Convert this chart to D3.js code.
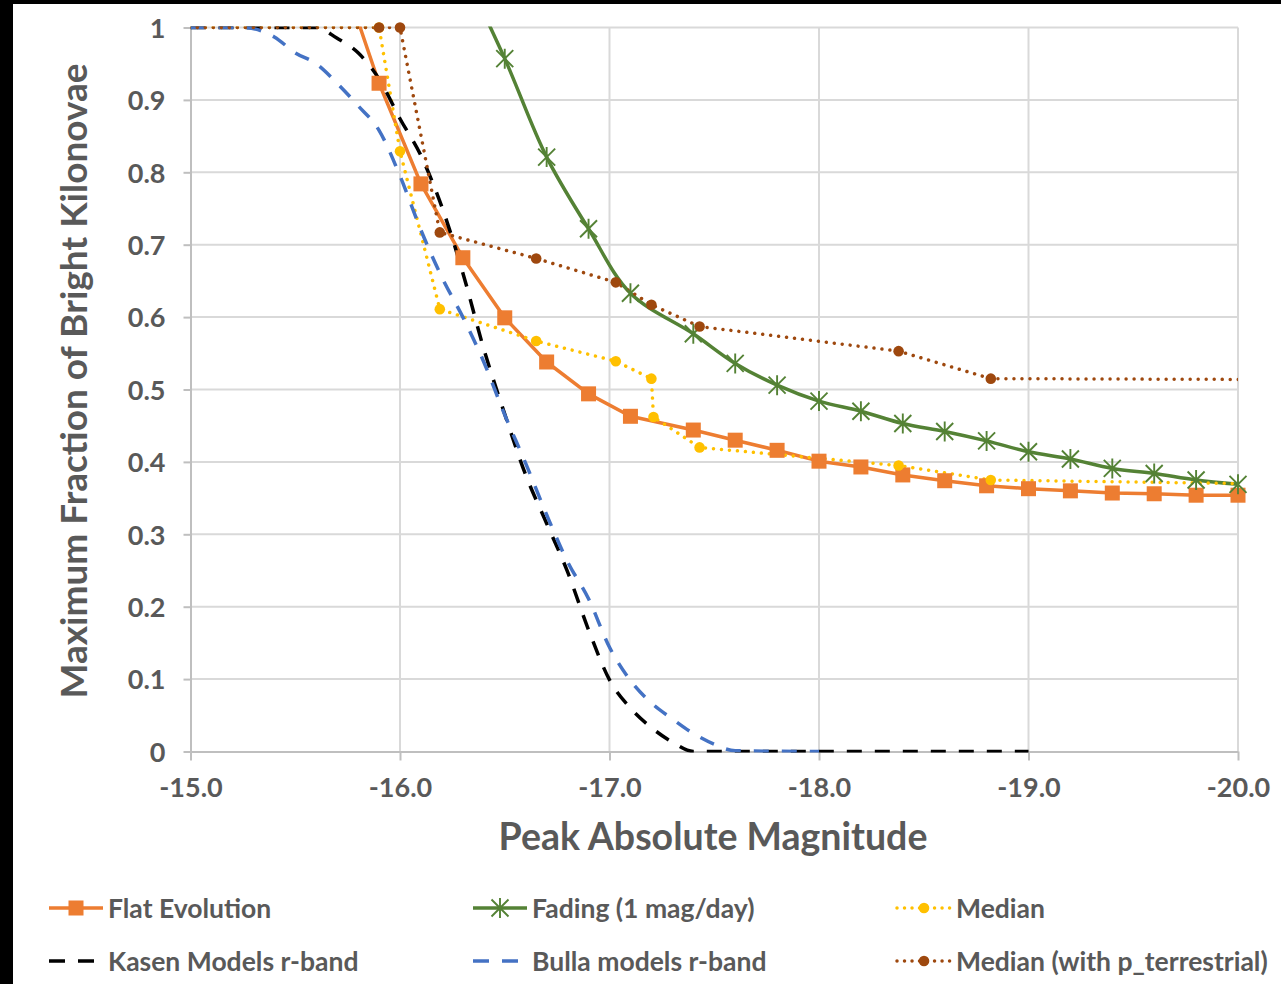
<!DOCTYPE html>
<html>
<head>
<meta charset="utf-8">
<title>Bright kilonovae fraction</title>
<script src="https://d3js.org/d3.v7.min.js"></script>
<style>
body { margin:0; background:#fff; }
svg { display:block; }
.lbl { font-family: Lato, "Open Sans", sans-serif; font-weight:700; fill:#595959; }
</style>
</head>
<body>
<script>
// magnitude, fraction
var flatEvolution = [[-15.7,1.094],[-15.9,0.923],[-16.1,0.784],[-16.3,0.682],[-16.5,0.599],[-16.7,0.538],[-16.9,0.494],
	[-17.1,0.463],[-17.4,0.444],[-17.6,0.430],[-17.8,0.416],[-18.0,0.401],[-18.2,0.393],[-18.4,0.382],[-18.6,0.374],
	[-18.8,0.367],[-19.0,0.363],[-19.2,0.360],[-19.4,0.357],[-19.6,0.356],[-19.8,0.354],[-20.0,0.354]];
var fading = [[-16.3,1.08],[-16.5,0.957],[-16.7,0.821],[-16.9,0.722],[-17.1,0.633],[-17.4,0.577],[-17.6,0.536],
	[-17.8,0.506],[-18.0,0.484],[-18.2,0.470],[-18.4,0.453],[-18.6,0.442],[-18.8,0.429],[-19.0,0.414],[-19.2,0.404],
	[-19.4,0.391],[-19.6,0.384],[-19.8,0.375],[-20.0,0.369]];
var median = [[-14.0,1.0],[-15.9,1.0],[-16.0,0.829],[-16.19,0.611],[-16.65,0.567],[-17.03,0.539],[-17.2,0.515],
	[-17.21,0.462],[-17.43,0.420],[-18.38,0.395],[-18.82,0.375],[-21.0,0.366]];
var kasen = [[-15.0,1.0],[-15.6,1.0],[-15.7,0.985],[-15.8,0.965],[-15.9,0.929],[-16.0,0.874],[-16.1,0.823],[-16.2,0.752],
	[-16.3,0.661],[-16.4,0.556],[-16.5,0.466],[-16.6,0.382],[-16.7,0.315],[-16.8,0.248],[-16.9,0.168],[-17.0,0.099],
	[-17.1,0.060],[-17.2,0.033],[-17.3,0.013],[-17.4,0.0],[-19.0,0.0]];
var bulla = [[-15.0,1.0],[-15.25,1.0],[-15.4,0.987],[-15.5,0.965],[-15.6,0.950],[-15.7,0.923],[-15.8,0.892],[-15.9,0.858],
	[-16.0,0.795],[-16.1,0.720],[-16.2,0.655],[-16.3,0.600],[-16.4,0.538],[-16.5,0.465],[-16.6,0.398],[-16.7,0.327],
	[-16.8,0.262],[-16.9,0.211],[-17.0,0.144],[-17.1,0.098],[-17.2,0.067],[-17.3,0.045],[-17.4,0.025],[-17.5,0.010],
	[-17.6,0.001],[-18.0,0.0]];
var terrestrial = [[-14.0,1.0],[-15.9,1.0],[-16.0,1.0],[-16.19,0.717],[-16.65,0.681],[-17.03,0.648],[-17.2,0.617],
	[-17.43,0.587],[-18.38,0.553],[-18.82,0.515],[-21.0,0.513]];

var xTicks = [-15,-16,-17,-18,-19,-20];
var yTicks = [0,0.1,0.2,0.3,0.4,0.5,0.6,0.7,0.8,0.9,1];
var seriesNames = ['Flat Evolution','Fading (1 mag/day)','Median','Kasen Models r-band','Bulla models r-band','Median (with p_terrestrial)'];
var xTitle = 'Peak Absolute Magnitude',
	yTitle = 'Maximum Fraction of Bright Kilonovae';

var W = 1281, H = 984,
	plotL = 190.5, plotR = 1238, plotT = 27.5, plotB = 751.5;

var svg = d3.select('body').append('svg').attr('width', W).attr('height', H);

svg.append('rect').attr('width', W).attr('height', H).attr('fill', '#fff');
// black frame edges of the screenshot
svg.append('rect').attr('x',0).attr('y',0).attr('width',13).attr('height',H).attr('fill','#000');
svg.append('rect').attr('x',0).attr('y',0).attr('width',W).attr('height',4).attr('fill','#000');

var x = d3.scaleLinear().domain([-15,-20]).range([plotL,plotR]),
	y = d3.scaleLinear().domain([0,1]).range([plotB,plotT]);

svg.append('defs').append('clipPath').attr('id','plotclip')
	.append('rect').attr('x',plotL).attr('y',plotT-1).attr('width',plotR-plotL).attr('height',plotB-plotT+2);

// grid
var grid = svg.append('g');
grid.selectAll('line.h').data(yTicks.slice(1)).enter().append('line').attr('class','h')
	.attr('x1',plotL).attr('x2',plotR).attr('y1',function(d){return y(d);}).attr('y2',function(d){return y(d);})
	.attr('stroke','#d9d9d9').attr('stroke-width',2);
grid.selectAll('line.v').data(xTicks.slice(1)).enter().append('line').attr('class','v')
	.attr('y1',plotT).attr('y2',plotB).attr('x1',function(d){return x(d);}).attr('x2',function(d){return x(d);})
	.attr('stroke','#d9d9d9').attr('stroke-width',2);

// axes
var hyphen = function(s){ return s.replace('\u2212','-'); };
var yAxis = d3.axisLeft(y).tickValues(yTicks).tickSize(7).tickSizeOuter(0).tickPadding(18)
	.tickFormat(function(d){ return d3.format('~g')(d); });
var xAxis = d3.axisBottom(x).tickValues(xTicks).tickSize(9).tickSizeOuter(0)
	.tickFormat(function(d){ return hyphen(d3.format('.1f')(d)); });

var gy = svg.append('g').attr('transform','translate('+plotL+',0)').call(yAxis);
var gx = svg.append('g').attr('transform','translate(0,'+plotB+')').call(xAxis);
[gx, gy].forEach(function(g){
	g.select('.domain').attr('stroke','#bfbfbf').attr('stroke-width',2);
	g.selectAll('.tick line').attr('stroke','#bfbfbf').attr('stroke-width',2);
	g.selectAll('.tick text').attr('class','lbl').attr('font-size',27).attr('fill','#595959')
		.style('font-family','Lato').style('font-weight',700);
});
gy.selectAll('.tick text').attr('dy','0.36em');
gx.selectAll('.tick text').attr('y',36).attr('dy','0.36em');

// titles
svg.append('text').attr('class','lbl').attr('x',713).attr('y',836).attr('dy','0.36em')
	.attr('text-anchor','middle').attr('font-size',37.5).text(xTitle);
svg.append('text').attr('class','lbl').attr('transform','translate(74,381) rotate(-90)').attr('dy','0.36em')
	.attr('text-anchor','middle').attr('font-size',37).text(yTitle);

// series
var line = d3.line().x(function(d){return x(d[0]);}).y(function(d){return y(d[1]);});
var smooth = d3.line().curve(d3.curveCatmullRom).x(function(d){return x(d[0]);}).y(function(d){return y(d[1]);});
var mono = d3.line().curve(d3.curveMonotoneX).x(function(d){return x(d[0]);}).y(function(d){return y(d[1]);});

var series = [
	{data:flatEvolution, color:'#ED7D31', gen:line, dash:null, cap:'butt', marker:'square'},
	{data:fading, color:'#548235', gen:smooth, dash:null, cap:'butt', marker:'star'},
	{data:median, color:'#FFC000', gen:line, dash:'0.01,8', cap:'round', marker:'circle'},
	{data:kasen, color:'#000000', gen:mono, dash:'15,13', cap:'butt', marker:null},
	{data:bulla, color:'#4472C4', gen:mono, dash:'15,13', cap:'butt', marker:null},
	{data:terrestrial, color:'#9E480E', gen:line, dash:'0.01,8', cap:'round', marker:'circle'}
];

var lines = svg.append('g').attr('clip-path','url(#plotclip)');
series.forEach(function(s){
	lines.append('path').attr('d', s.gen(s.data)).attr('fill','none')
		.attr('stroke', s.color).attr('stroke-width', 3.5)
		.attr('stroke-dasharray', s.dash).attr('stroke-linecap', s.cap).attr('stroke-linejoin','round');
});

function drawMarker(g, type, color){
	if(type === 'square'){
		g.append('rect').attr('x',-7.5).attr('y',-7.5).attr('width',15).attr('height',15).attr('fill',color);
	} else if(type === 'circle'){
		g.append('circle').attr('r',5.3).attr('fill',color);
	} else if(type === 'star'){
		g.append('path').attr('d','M-8.5,-8.5L8.5,8.5M-8.5,8.5L8.5,-8.5M0,-10L0,10').attr('stroke',color)
			.attr('stroke-width',1.9).attr('fill','none');
	}
}

var marks = svg.append('g');
series.forEach(function(s){
	if(!s.marker) return;
	s.data.filter(function(d){ return d[0] <= -15 && d[0] >= -20 && d[1] <= 1; }).forEach(function(d){
		var g = marks.append('g').attr('transform','translate('+x(d[0])+','+y(d[1])+')');
		drawMarker(g, s.marker, s.color);
	});
});

// legend
var legX = [49, 473, 897], legY = [908, 961];
var leg = svg.append('g');
series.forEach(function(s, i){
	var lx = legX[i % 3], ly = legY[Math.floor(i / 3)];
	var g = leg.append('g').attr('transform','translate('+lx+','+ly+')');
	g.append('line').attr('x1',0).attr('x2',54).attr('y1',0).attr('y2',0)
		.attr('stroke',s.color).attr('stroke-width',3.5)
		.attr('stroke-dasharray', s.dash ? (s.marker ? '0.01,7.5' : '16,13') : null)
		.attr('stroke-linecap', s.cap);
	if(s.marker){
		var m = g.append('g').attr('transform','translate(27,0)');
		drawMarker(m, s.marker, s.color);
	}
	g.append('text').attr('class','lbl').attr('x',59).attr('y',0).attr('dy','0.36em')
		.attr('font-size',26.5).text(seriesNames[i]);
});
</script>
</body>
</html>
